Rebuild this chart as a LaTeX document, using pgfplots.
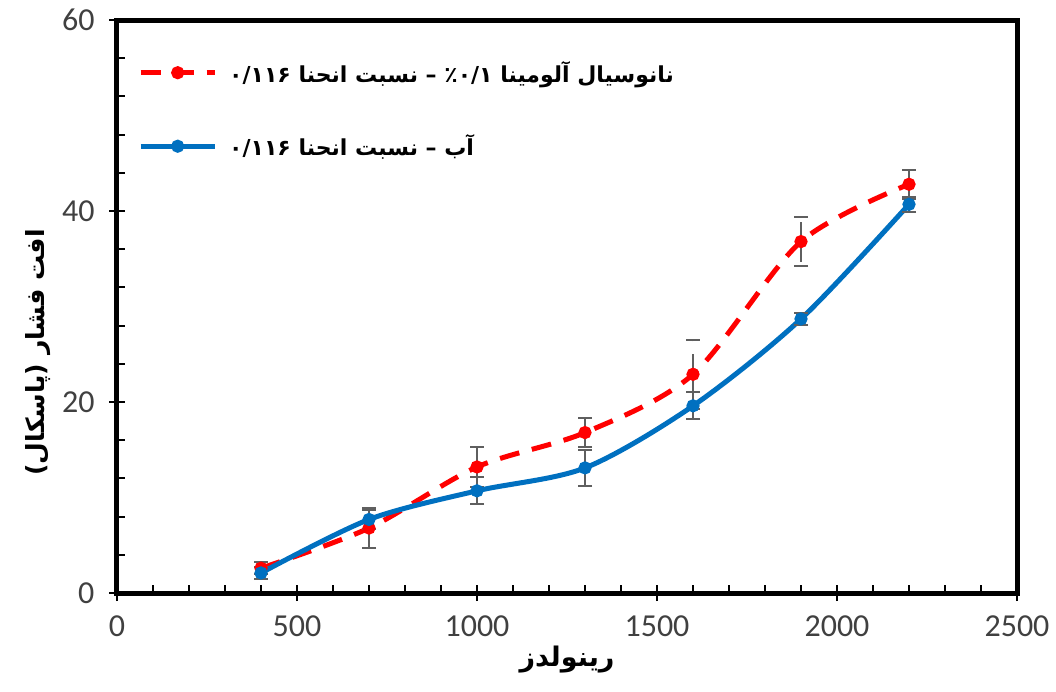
\documentclass[border=0pt]{standalone}
\usepackage{fontspec}
\setmainfont{Carlito}
\newfontfamily\arabicfont[Script=Arabic]{DejaVu Sans}
\usepackage{pgfplots}
\pgfplotsset{compat=1.18}
\TeXXeTstate=1
\definecolor{myred}{RGB}{255,0,0}
\definecolor{myblue}{RGB}{0,112,192}
\definecolor{ticktext}{RGB}{64,64,64}
\definecolor{errgray}{RGB}{95,95,95}

\pgfplotstableread{
x y e
400 2.6 0.6
700 6.8 2.1
1000 13.2 2.1
1300 16.8 1.5
1600 22.9 3.6
1900 36.8 2.6
2200 42.8 1.5
}\rednano
\pgfplotstableread{
x y e
400 2.1 0.6
700 7.7 1.0
1000 10.7 1.4
1300 13.1 1.9
1600 19.6 1.4
1900 28.7 0.6
2200 40.7 0.8
}\bluewater

\begin{document}
\begin{tikzpicture}
\useasboundingbox (-117pt,-98pt) rectangle (939pt,593pt);
\begin{axis}[
  scale only axis, width=900pt, height=573pt,
  xmin=0, xmax=2500, ymin=0, ymax=60,
  xtick={0,500,...,2500}, ytick={0,20,40,60},
  minor x tick num=4, minor y tick num=4,
  xtick pos=bottom, ytick pos=left,
  axis line style={line width=5pt},
  tick align=inside,
  major tick length=8pt, minor tick length=8pt,
  every tick/.style={black, line width=2pt},
  extra x ticks={0,500,1000,1500,2000,2500},
  extra y ticks={0,20,40,60},
  extra x tick labels={}, extra y tick labels={},
  extra tick style={tick align=outside, major tick length=8pt},
  /pgf/number format/1000 sep={},
  /pgf/number format/assume math mode=true,
  ticklabel style={font=\fontsize{32}{32}\selectfont, text=ticktext},
  xticklabel style={yshift=-19pt},
  yticklabel style={xshift=-19pt},
  xlabel={\arabicfont\bfseries\fontsize{27}{27}\selectfont\beginR رینولدز\endR},
  ylabel={\arabicfont\bfseries\fontsize{25}{25}\selectfont\beginR افت فشار (پاسکال)\endR},
  xlabel style={yshift=5pt},
  ylabel style={at={(ticklabel cs:0.42)}, yshift=-3pt},
  legend style={at={(0.02,0.935)}, anchor=north west, draw=none, fill=none,
    font=\arabicfont\bfseries\fontsize{22}{22}\selectfont, row sep=47pt,
    /tikz/every odd column/.append style={column sep=10pt}},
  legend cell align=left,
  legend image code/.code={\draw[mark repeat=2, mark phase=2, #1] plot coordinates {(0pt,0pt) (37pt,0pt) (74pt,0pt)};},
  error bars/y dir=both, error bars/y explicit,
  error bars/error bar style={line width=2pt, errgray},
  error bars/error mark options={rotate=90, mark size=7pt, line width=2pt, errgray},
]
\addplot[myred, line width=5pt, dash pattern=on 20pt off 13pt, smooth, tension=0.5,
  mark=*, mark size=4pt, mark options={solid, fill=myred, draw=myred}]
  table[x=x, y=y, y error=e] {\rednano};
\addlegendentry{\beginL ۰/۱۱۶ \beginR نسبت انحنا\endR{} – ٪۰/۱ \beginR نانوسیال آلومینا\endR\endL}
\addplot[myblue, line width=5pt, smooth, tension=0.5,
  mark=*, mark size=4pt, mark options={solid, fill=myblue, draw=myblue}]
  table[x=x, y=y, y error=e] {\bluewater};
\addlegendentry{\beginL ۰/۱۱۶ \beginR نسبت انحنا\endR{} – آب\endL}
\end{axis}
\end{tikzpicture}
\end{document}
